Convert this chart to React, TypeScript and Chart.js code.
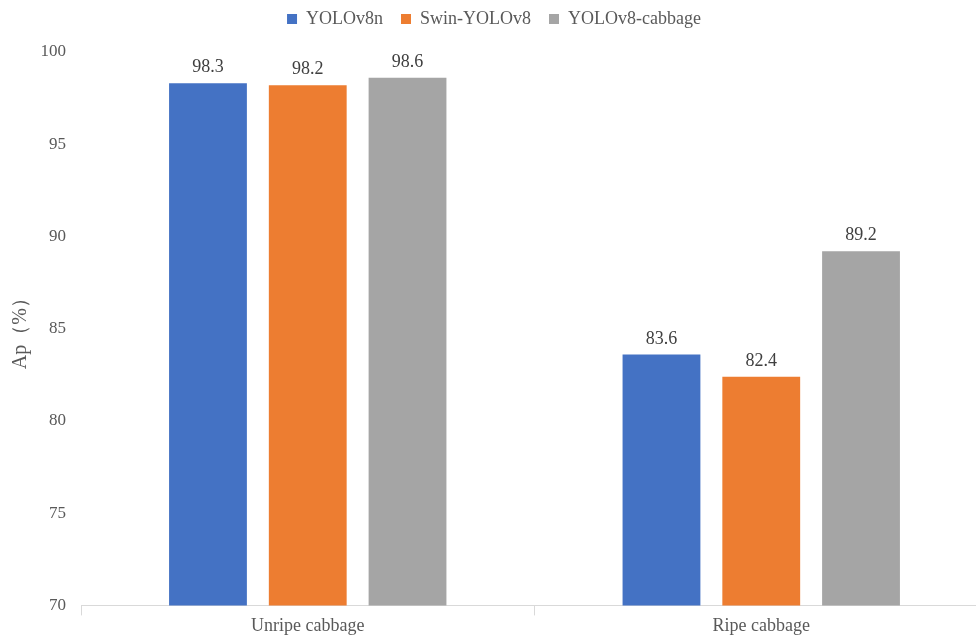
import React, { useEffect, useRef } from "react";
import { Chart, registerables } from "chart.js";

Chart.register(...registerables);

const categories = ["Unripe cabbage", "Ripe cabbage"];
const seriesNames = ["YOLOv8n", "Swin-YOLOv8", "YOLOv8-cabbage"];
const yolov8n = [98.3, 83.6];
const swinYolov8 = [98.2, 82.4];
const yolov8Cabbage = [98.6, 89.2];
const colors = ["#4472C4", "#ED7D31", "#A5A5A5"];
const yMin = 70;
const yMax = 100;
const yStep = 5;
const yTitle = "Ap（%）";

const FONT = "'Liberation Serif', 'Times New Roman', serif";
const TEXT = "#595959";
const LEGEND_EXTRA = 14;

const dataLabelPlugin = {
  id: "dataLabels",
  afterDatasetsDraw(chart: any) {
    const ctx = chart.ctx;
    ctx.save();
    ctx.font = `18px ${FONT}`;
    ctx.fillStyle = "#404040";
    ctx.textAlign = "center";
    ctx.textBaseline = "alphabetic";
    chart.data.datasets.forEach((ds: any, i: number) => {
      const meta = chart.getDatasetMeta(i);
      meta.data.forEach((bar: any, j: number) => {
        ctx.fillText(Number(ds.data[j]).toFixed(1), bar.x, bar.y - 11);
      });
    });
    ctx.restore();
  },
};

const legendSpacePlugin = {
  id: "legendSpace",
  beforeInit(chart: any) {
    const legend = chart.legend;
    if (!legend) return;
    const origFit = legend.fit;
    legend.fit = function () {
      origFit.call(this);
      this.height += LEGEND_EXTRA;
    };
  },
};

export default function App() {
  const ref = useRef<HTMLCanvasElement>(null);
  useEffect(() => {
    if (!ref.current) return;
    const chart = new Chart(ref.current, {
      type: "bar",
      data: {
        labels: categories,
        datasets: [yolov8n, swinYolov8, yolov8Cabbage].map((d, i) => ({
          label: seriesNames[i],
          data: d,
          backgroundColor: colors[i],
          borderWidth: 0,
          categoryPercentage: 0.66,
          barPercentage: 0.78,
        })),
      },
      options: {
        animation: false,
        responsive: false,
        layout: { padding: { top: -8, right: 0, bottom: 2, left: 0 } },
        plugins: {
          legend: {
            position: "top",
            labels: {
              boxWidth: 10,
              boxHeight: 10,
              font: { family: FONT, size: 18 },
              color: TEXT,
              padding: 18,
            },
          },
          tooltip: { enabled: false },
        },
        scales: {
          x: {
            grid: {
              display: true,
              drawOnChartArea: false,
              color: "#D9D9D9",
              tickLength: 10,
              offset: true,
            },
            border: { display: true, color: "#D9D9D9" },
            ticks: { font: { family: FONT, size: 18 }, color: TEXT, padding: 0 },
          },
          y: {
            min: yMin,
            max: yMax,
            ticks: {
              stepSize: yStep,
              font: { family: FONT, size: 17 },
              color: TEXT,
              padding: 15,
            },
            grid: { display: false, drawTicks: false },
            border: { display: false },
            title: {
              display: true,
              text: yTitle,
              font: { family: FONT, size: 20 },
              color: TEXT,
              padding: { top: 9, bottom: 0 },
            },
            afterFit(scale: any) {
              scale.width = 81;
            },
          },
        },
      },
      plugins: [legendSpacePlugin, dataLabelPlugin],
    });
    return () => chart.destroy();
  }, []);
  return (
    <div
      style={{
        position: "fixed",
        left: 0,
        top: 0,
        width: 976,
        height: 639,
        overflow: "hidden",
        background: "#fff",
      }}
    >
      <canvas ref={ref} width={988} height={639} style={{ width: 988, height: 639, display: "block" }} />
    </div>
  );
}
